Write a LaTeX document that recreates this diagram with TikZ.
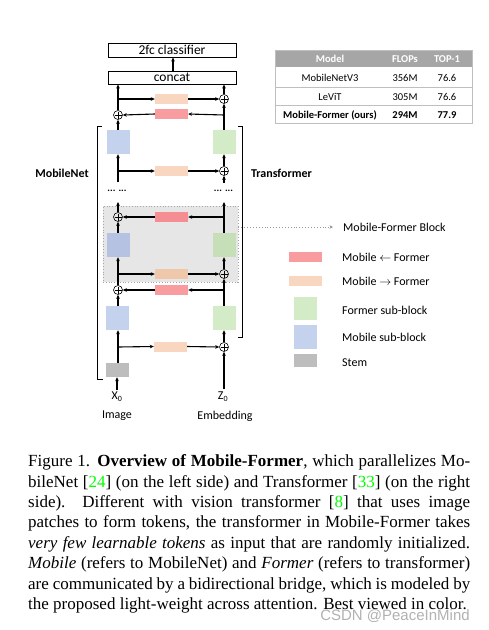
\documentclass[tikz,border=0pt]{standalone}
\usepackage{fontspec}
\setmainfont{Liberation Serif}
\newfontfamily\calfont{Carlito}
\newfontfamily\wmfont{Liberation Sans}
\usetikzlibrary{arrows.meta}
\definecolor{mblue}{HTML}{C5D2EE}
\definecolor{mgreen}{HTML}{D4EBC8}
\definecolor{morange}{HTML}{F9D6BF}
\definecolor{mred}{HTML}{F99CA0}
\definecolor{mstem}{HTML}{BDBDBD}
\definecolor{dblue}{HTML}{B5C2E2}
\definecolor{dgreen}{HTML}{C6DFB8}
\definecolor{dorange}{HTML}{EFC8AC}
\definecolor{dred}{HTML}{F58E92}
\definecolor{blockgray}{HTML}{E6E6E6}
\definecolor{tabhead}{HTML}{A6A6A6}
\definecolor{tabline}{HTML}{BFBFBF}
\definecolor{citegreen}{HTML}{00FF00}
\tikzset{
  conn/.style={line width=1.1pt, -{Stealth[length=4pt,width=3.6pt]}},
  plain/.style={line width=1.1pt},
  subblock/.style={inner sep=0pt, minimum width=23pt, minimum height=24pt},
  bridge/.style={inner sep=0pt, minimum width=33pt, minimum height=10pt},
  plusnode/.style={circle, draw, line width=0.6pt, inner sep=0pt, minimum size=9pt,
    path picture={\draw[line width=0.5pt] ([yshift=-1pt]path picture bounding box.north) -- ([yshift=1pt]path picture bounding box.south)
      ([xshift=1pt]path picture bounding box.west) -- ([xshift=-1pt]path picture bounding box.east);}},
  headbox/.style={draw, line width=0.9pt, inner sep=0pt, minimum width=128pt, font=\calfont\fontsize{13.5}{15}\selectfont},
  lab/.style={inner sep=0pt, font=\calfont\fontsize{12}{14}\selectfont},
  tab/.style={inner sep=0pt, font=\calfont\fontsize{10.5}{12}\selectfont},
  tabh/.style={tab, text=white, font=\calfont\bfseries\fontsize{10.5}{12}\selectfont},
  dotsstyle/.style={inner sep=0pt, font=\calfont\bfseries\fontsize{10}{12}\selectfont},
}
\begin{document}
\begin{tikzpicture}[x=1pt,y=-1pt]
\useasboundingbox (0,0) rectangle (489,630);
\fill[white] (0,0) rectangle (489,630);

% Mobile-Former block background
\node[fill=blockgray, draw=gray!70, dotted, line width=0.8pt, inner sep=0pt,
  minimum width=135pt, minimum height=76pt] (mfb) at (170.5,244) {};

% head
\node[headbox, minimum height=14pt] (cls) at (172,50) {2fc classifier};
\node[headbox, minimum height=13pt] (concat) at (172,77.5) {concat};

% upper stage
\node[subblock, fill=mblue] (blueU) at (118.5,142) {};
\node[subblock, fill=mgreen] (greenU) at (224.5,142) {};
\node[bridge, fill=mred] (redT) at (171.5,114) {};
\node[bridge, fill=morange] (orangeT) at (171.5,99) {};
\node[bridge, fill=morange] (orangeU) at (171.5,171) {};
\node[plusnode] (pTL) at (118,115) {};
\node[plusnode] (pTR) at (224,99) {};
\node[plusnode] (pU) at (224,171) {};

% block stage
\node[subblock, fill=dblue] (blueB) at (118,245) {};
\node[subblock, fill=dgreen] (greenB) at (224.5,245) {};
\node[bridge, fill=dred] (redB) at (171.5,217) {};
\node[bridge, fill=dorange] (orangeB) at (171.5,274) {};
\node[plusnode] (pBL) at (118,217) {};
\node[plusnode] (pBR) at (224,274) {};

% lower stage
\node[bridge, fill=mred] (redL) at (171.5,290) {};
\node[plusnode] (pLL) at (118,290) {};
\node[subblock, fill=mblue] (blueL) at (117.5,318) {};
\node[subblock, fill=mgreen] (greenL) at (224,318) {};
\node[bridge, fill=morange] (orangeS) at (170.5,346.5) {};
\node[plusnode] (pS) at (224,347) {};
\node[inner sep=0pt, minimum width=23pt, minimum height=14pt, fill=mstem] (stem) at (117.5,370) {};

% inputs
\node[lab] (x0) at (117,397) {X\textsubscript{0}};
\node[lab] (z0) at (223,397) {Z\textsubscript{0}};
\node[lab] (img) at (117,416) {Image};
\node[lab] (emb) at (225,416) {Embedding};

% dots
\node[dotsstyle] (dotsL) at (117,191) {... ...};
\node[dotsstyle] (dotsR) at (223.5,191) {... ...};

% coordinates
\coordinate (bS) at (118,347);
\coordinate (cL) at (224,290);
\coordinate (bB) at (118,274);
\coordinate (cB) at (224,217);
\coordinate (tBL) at (118,202);
\coordinate (tBR) at (224,202);
\coordinate (sU) at (118,182);
\coordinate (sUR) at (224,183);
\coordinate (bU) at (118,171);
\coordinate (cT) at (224,115);
\coordinate (bT) at (118,99);

% connectors: bottom
\draw[conn] (x0.north) ++(0,-2) -- (stem.south -| x0.north);
\draw[conn] (stem.north -| bS) -- (blueL.south -| bS);
\draw[conn] (bS) -- (orangeS.west);
\draw[conn] (orangeS.east) -- (pS.west);
\draw[conn] (z0.north -| pS) ++(0,-3) -- (pS.south);
\draw[conn] (pS.north) -- (greenL.south -| pS.north);
\draw[conn] (blueL.north -| pLL) -- (pLL.south);
\draw[conn] (greenL.north -| pBR) -- (pBR.south);
\draw[conn] (cL) -- (redL.east);
\draw[conn] (redL.west) -- (pLL.east);
% block
\draw[conn] (pLL.north) -- (blueB.south -| pLL.north);
\draw[conn] (bB) -- (orangeB.west);
\draw[conn] (orangeB.east) -- (pBR.west);
\draw[conn] (pBR.north) -- (greenB.south -| pBR.north);
\draw[conn] (blueB.north -| pBL) -- (pBL.south);
\draw[conn] (greenB.north -| tBR) -- (tBR);
\draw[conn] (cB) -- (redB.east);
\draw[conn] (redB.west) -- (pBL.east);
\draw[conn] (pBL.north) -- (tBL);
% upper
\draw[conn] (sU) -- (blueU.south -| sU);
\draw[conn] (bU) -- (orangeU.west);
\draw[conn] (orangeU.east) -- (pU.west);
\draw[conn] (sUR) -- (pU.south);
\draw[conn] (pU.north) -- (greenU.south -| pU.north);
\draw[conn] (blueU.north -| pTL) -- (pTL.south);
\draw[conn] (greenU.north -| pTR) -- (pTR.south);
\draw[conn] (cT) -- (redT.east);
\draw[conn] (redT.west) -- (pTL.east);
\draw[conn] (pTL.north) -- (concat.south -| pTL.north);
\draw[conn] (bT) -- (orangeT.west);
\draw[conn] (orangeT.east) -- (pTR.west);
\draw[conn] (pTR.north) -- (concat.south -| pTR.north);
\draw[conn] (concat.north -| 173,0) -- (cls.south -| 173,0);

% brackets
\draw[line width=0.9pt] (102,126) -- (97,126) -- (97,379) -- (103,379);
\draw[line width=0.9pt] (238,126) -- (242,126) -- (242,337) -- (238,337);
\node[inner sep=0pt, font=\calfont\bfseries\fontsize{12}{14}\selectfont] (mnet) at (62,173) {MobileNet};
\node[inner sep=0pt, font=\calfont\bfseries\fontsize{12}{14}\selectfont] (tnet) at (281.5,173) {Transformer};

% legend
\node[lab, anchor=west] (lgblock) at (343,227) {Mobile-Former Block};
\draw[gray!80, dotted, line width=0.9pt, -{Stealth[length=3.5pt,width=3.5pt]}, shorten >=10pt] (lgblock.west -| mfb.east) -- (lgblock.west);
\node[inner sep=0pt, minimum width=33pt, minimum height=10pt, fill=mred] (lgr) at (305.5,257) {};
\node[lab, anchor=west] at (342,257) {Mobile $\leftarrow$ Former};
\node[inner sep=0pt, minimum width=33pt, minimum height=10pt, fill=morange] (lgo) at (305.5,281) {};
\node[lab, anchor=west] at (342,281) {Mobile $\rightarrow$ Former};
\node[inner sep=0pt, minimum width=23pt, minimum height=23pt, fill=mgreen] (lgg) at (305.5,308.5) {};
\node[lab, anchor=west] at (342,310) {Former sub-block};
\node[inner sep=0pt, minimum width=23pt, minimum height=24pt, fill=mblue] (lgb) at (305.5,337) {};
\node[lab, anchor=west] at (342,337) {Mobile sub-block};
\node[inner sep=0pt, minimum width=23pt, minimum height=13pt, fill=mstem] (lgs) at (305.5,360.5) {};
\node[lab, anchor=west] at (342,363) {Stem};

% table
\fill[tabhead] (275,50) rectangle (472,67);
\draw[tabline, line width=0.6pt] (275,87) -- (472,87) (275,105) -- (472,105);
\draw[tabline, line width=0.8pt] (275,50) rectangle (472,123);
\node[tabh] at (330,59) {Model};
\node[tabh] at (405,59) {FLOPs};
\node[tabh] at (447,59) {TOP-1};
\node[tab] at (330,78) {MobileNetV3};
\node[tab] at (405,78) {356M};
\node[tab] at (447,78) {76.6};
\node[tab] at (330,97) {LeViT};
\node[tab] at (405,97) {305M};
\node[tab] at (447,97) {76.6};
\node[tab, font=\calfont\bfseries\fontsize{10.5}{12}\selectfont] at (330,115) {Mobile-Former (ours)};
\node[tab, font=\calfont\bfseries\fontsize{10.5}{12}\selectfont] at (405,115) {294M};
\node[tab, font=\calfont\bfseries\fontsize{10.5}{12}\selectfont] at (447,115) {77.9};

% caption
\node[anchor=north west, inner sep=0pt, text width=442pt, align=justify,
  font=\fontsize{17}{20.4}\selectfont] (cap) at (28,454.5) {%
\tolerance=9999\emergencystretch=20pt
Figure 1. \textbf{Overview of Mobile-Former}, which parallelizes Mo-\linebreak
bileNet [\textcolor{citegreen}{24}] (on the left side) and Transformer [\textcolor{citegreen}{33}] (on the right\linebreak
side).\ \ Different with vision transformer [\textcolor{citegreen}{8}] that uses image\linebreak
patches to form tokens, the transformer in Mobile-Former takes\linebreak
\textit{very few learnable tokens} as input that are randomly initialized.\linebreak
\textit{Mobile} (refers to MobileNet) and \textit{Former} (refers to transformer)\linebreak
are communicated by a bidirectional bridge, which is modeled by\linebreak
the proposed light-weight across attention. Best viewed in color.};

% watermark
\node[inner sep=0pt, text=gray!60, font=\wmfont\fontsize{15}{17}\selectfont] (wm) at (395,616) {CSDN @PeaceInMind};
\end{tikzpicture}
\end{document}
